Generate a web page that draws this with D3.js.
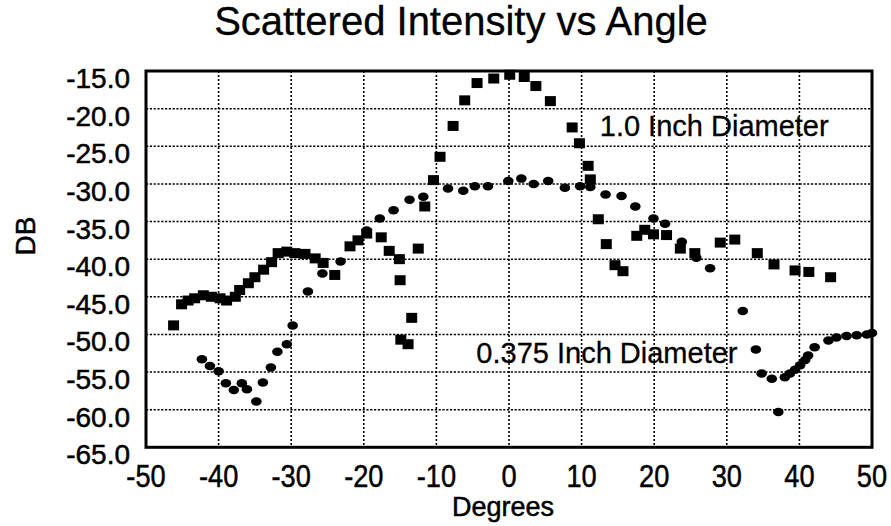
<!DOCTYPE html>
<html>
<head>
<meta charset="utf-8">
<script src="https://cdn.jsdelivr.net/npm/d3@7"></script>
<style>
  body { margin: 0; background: #fff; }
  text { font-family: "Liberation Sans", Arial, Helvetica, sans-serif; fill: #000; stroke: #000; stroke-width: 0.5; }
</style>
</head>
<body>
<div id="chart"></div>
<script>

// tick values
const xTicks = [-50, -40, -30, -20, -10, 0, 10, 20, 30, 40, 50]
const yTicks = [-15, -20, -25, -30, -35, -40, -45, -50, -55, -60, -65]

// 1.0 inch diameter (squares)
const bigDeg = [-46.2, -45.1, -44.2, -43.3, -42.1, -41.0, -39.8, -38.9, -37.7, -37.1, -35.9, -35.0,
    -33.8, -32.7, -31.8, -30.6, -29.5, -28.1, -26.7, -25.6, -24.0, -21.9, -20.8, -19.6, -17.6, -16.5,
    -15.1, -15.0, -14.9, -13.9, -13.4, -12.5, -11.6, -10.4, -9.5, -7.7, -6.1, -4.4, -2.1, 0.1, 2.1,
    3.7, 5.7, 8.7, 9.7, 10.9, 11.2, 12.3, 13.4, 14.6, 15.7, 17.6, 18.7, 19.9, 21.7, 23.6, 25.6, 29.1,
    31.1, 34.2, 36.5, 39.4, 41.3, 44.3]
const bigDb = [-48.8, -46.0, -45.5, -45.2, -44.8, -45.0, -45.2, -45.5, -45.0, -44.1, -43.2, -42.4,
    -41.4, -40.4, -39.2, -39.0, -39.2, -39.3, -39.9, -40.5, -42.1, -38.3, -37.5, -36.6, -37.1, -38.9,
    -40.0, -42.8, -50.7, -51.3, -47.8, -38.6, -33.0, -29.5, -26.4, -22.3, -18.9, -16.6, -16.0, -15.5, -15.8,
    -17.0, -19.0, -22.5, -24.6, -27.6, -29.4, -34.7, -38.0, -40.8, -41.6, -36.9, -36.1, -36.7, -36.8, -38.6, -39.2, -37.8,
    -37.4, -39.2, -40.7, -41.5, -41.7, -42.4]

// 0.375 inch diameter (round dots)
const smallDeg = [-42.3, -41.2, -40.0, -39.0, -37.9, -36.8, -36.1, -34.8, -33.9, -32.8, -31.9, -30.6,
    -29.8, -27.7, -25.7, -23.2, -19.6, -17.8, -15.9, -13.7, -11.8, -8.4, -6.3, -4.7, -2.9, -0.1, 1.7,
    3.4, 5.4, 7.7, 9.8, 11.2, 13.3, 15.5, 17.4, 19.9, 21.5, 23.8, 25.8, 27.7, 32.2, 34.0, 34.8, 36.2,
    37.1, 38.0, 38.7, 39.4, 40.1, 40.8, 41.2, 42.1, 44.0, 45.1, 46.5, 47.9, 49.3, 50.0]
const smallDb = [-53.3, -54.2, -54.9, -56.5, -57.4, -56.5, -57.3, -58.9, -56.4, -54.4, -52.3, -51.3,
    -48.8, -44.3, -41.9, -40.3, -36.2, -34.6, -33.5, -32.1, -31.7, -30.6, -30.9, -30.3, -30.3, -29.6, -29.3,
    -30.0, -29.6, -30.5, -30.3, -30.4, -31.4, -31.6, -33.0, -34.6, -35.3, -37.7, -39.8, -41.2, -46.9, -52.0, -55.2, -55.9,
    -60.3, -55.7, -55.2, -54.7, -54.1, -53.4, -52.8, -51.7, -50.8, -50.4, -50.2, -50.1, -50.0, -49.8]

const labelText = ['1.0 Inch Diameter', '0.375 Inch Diameter']
const labelDeg = [12.5, -4.5]
const labelDb = [-23.6, -53.8]


const width = 891
const height = 526

const svg = d3.select('#chart').append('svg')
    .attr('width', width)
    .attr('height', height)

svg.append('rect')
    .attr('width', width)
    .attr('height', height)
    .attr('fill', '#fff')

const x = d3.scaleLinear().domain([-50, 50]).range([146, 872])
const y = d3.scaleLinear().domain([-65, -15]).range([447.3, 71])

// grid
svg.append('g')
    .selectAll('line')
    .data(xTicks.slice(1, -1))
    .enter().append('line')
    .attr('x1', d => x(d)).attr('x2', d => x(d))
    .attr('y1', y(-15)).attr('y2', y(-65))
    .attr('stroke', '#000')
    .attr('stroke-width', 1.6)
    .attr('stroke-dasharray', '2,2')

svg.append('g')
    .selectAll('line')
    .data(yTicks.slice(1, -1))
    .enter().append('line')
    .attr('y1', d => y(d)).attr('y2', d => y(d))
    .attr('x1', x(-50)).attr('x2', x(50))
    .attr('stroke', '#000')
    .attr('stroke-width', 1.5)
    .attr('stroke-dasharray', '2.2,1.6')

// frame
svg.append('rect')
    .attr('x', x(-50)).attr('y', y(-15))
    .attr('width', x(50) - x(-50))
    .attr('height', y(-65) - y(-15))
    .attr('fill', 'none')
    .attr('stroke', '#000')
    .attr('stroke-width', 3)

// tick labels
svg.append('g')
    .selectAll('text')
    .data(yTicks)
    .enter().append('text')
    .attr('x', 130)
    .attr('y', d => y(d) + 17)
    .attr('text-anchor', 'end')
    .attr('font-size', 28)
    .text(d => d.toFixed(1))

svg.append('g')
    .selectAll('text')
    .data(xTicks)
    .enter().append('text')
    .attr('transform', d => `translate(${x(d)},487) scale(0.85,1)`)
    .attr('text-anchor', 'middle')
    .attr('font-size', 32)
    .text(d => String(d))

// axis titles
svg.append('text')
    .attr('x', 503)
    .attr('y', 516)
    .attr('text-anchor', 'middle')
    .attr('font-size', 27)
    .text('Degrees')

svg.append('text')
    .attr('transform', 'translate(35,236) rotate(-90)')
    .attr('text-anchor', 'middle')
    .attr('font-size', 28)
    .text('DB')

svg.append('text')
    .attr('x', 461)
    .attr('y', 35)
    .attr('text-anchor', 'middle')
    .attr('font-size', 40)
    .style('stroke-width', 0.3)
    .text('Scattered Intensity vs Angle')

// points
const square = d3.symbol().type(d3.symbolSquare).size(100)
const dot = d3.symbol().type(d3.symbolCircle).size(70)

svg.append('g')
    .selectAll('path')
    .data(d3.range(bigDeg.length))
    .enter().append('path')
    .attr('d', square)
    .attr('transform', i => `translate(${x(bigDeg[i])},${y(bigDb[i])}) scale(1.1,1)`)
    .attr('fill', '#000')

svg.append('g')
    .selectAll('path')
    .data(d3.range(smallDeg.length))
    .enter().append('path')
    .attr('d', dot)
    .attr('transform', i => `translate(${x(smallDeg[i])},${y(smallDb[i])}) scale(1.12,0.9)`)
    .attr('fill', '#000')

// series labels
svg.append('g')
    .selectAll('text')
    .data(labelText)
    .enter().append('text')
    .attr('x', (d, i) => x(labelDeg[i]))
    .attr('y', (d, i) => y(labelDb[i]))
    .attr('font-size', 29)
    .style('stroke-width', 0.3)
    .text(d => d)

</script>
</body>
</html>
